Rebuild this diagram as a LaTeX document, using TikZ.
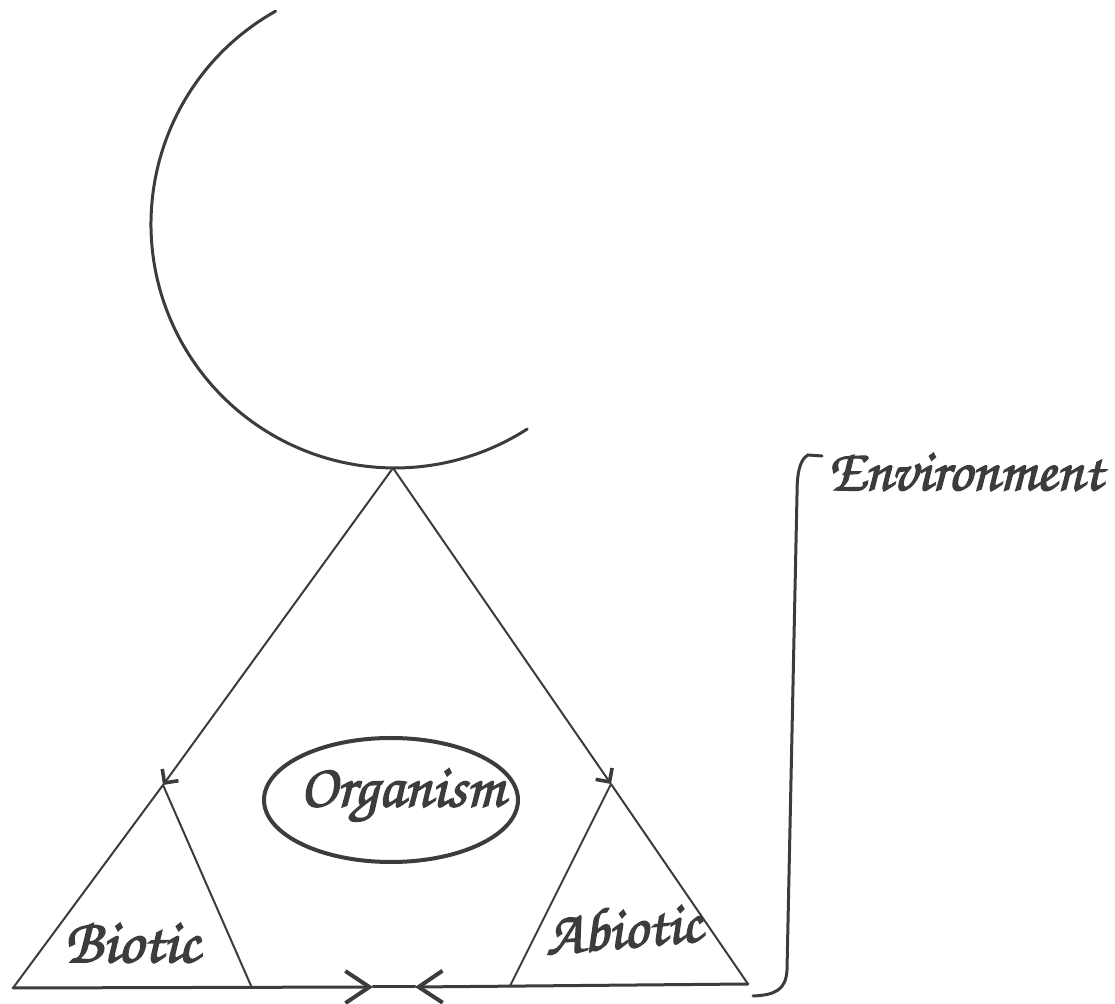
\documentclass[tikz,border=0pt]{standalone}
\usepackage{fontspec}
\newfontfamily\chorus[AutoFakeBold=2.2]{texgyrechorus-mediumitalic.otf}
\usetikzlibrary{arrows.meta,shapes.geometric}
\definecolor{ink}{HTML}{3C3C3C}
\tikzset{
  pen/.style={draw=ink,line width=1pt,line cap=round,line join=round},
  thickpen/.style={draw=ink,line width=1.5pt,line cap=round},
  smallarrow/.style={pen,-{Straight Barb[length=5pt,width=10pt,line width=1.8pt]}},
  bigarrow/.style={thickpen,-{Straight Barb[length=12pt,width=16pt,line width=2pt]}},
  label/.style={text=ink,inner sep=0pt,font=\chorus\bfseries}
}
\begin{document}
\begin{tikzpicture}[x=0.5pt,y=0.5pt]
\useasboundingbox (0,0) rectangle (1115,-1004);
% arc
\draw[thickpen] (275.6,-11.2) arc[start angle=119.3,end angle=302.8,radius=122pt];
% coordinates
\coordinate (apex) at (393,-468);
\coordinate (bapex) at (163,-785);
\coordinate (aapex) at (611,-784);
\coordinate (bl) at (13,-988);
\coordinate (br) at (252,-988);
\coordinate (al) at (510,-986);
\coordinate (ar) at (748,-984);
\coordinate (m1) at (373,-987);
\coordinate (m2) at (415,-987);
% connectors from apex
\draw[smallarrow] (apex) -- (bapex);
\draw[smallarrow] (apex) -- (aapex);
% biotic triangle
\draw[pen] (bl) -- (bapex) -- (br);
% abiotic triangle
\draw[pen] (al) -- (aapex) -- (ar);
% bottom line
\draw[bigarrow] (bl) -- (m1);
\draw[bigarrow] (ar) -- (m2);
\draw[thickpen] (m1) -- (m2);
% labels
\node[label] (biotic) at (132,-943) {\resizebox{67.5pt}{!}{Biotic}};
\node[label,rotate=5] (abiotic) at (623,-928) {\resizebox{78.5pt}{!}{Abiotic}};
\node[ellipse,draw=ink,line width=2pt,minimum width=127pt,minimum height=62pt,inner sep=0pt] (orgell) at (391,-800) {};
\node[label] (org) at (402,-795) {\resizebox{102pt}{!}{Organism}};
\node[label,anchor=west] (env) at (827,-472) {\resizebox{137.5pt}{!}{Environment}};
% bracket
\coordinate (t0) at (822,-456);
\coordinate (t1) at (808,-455);
\coordinate (t2) at (797,-495);
\coordinate (t3) at (787,-970);
\coordinate (t4) at (753,-996);
\draw[thickpen] (t0) -- (t1) .. controls (799,-460) and (797,-475) .. (t2) -- (t3) .. controls (786,-990) and (775,-995) .. (t4);
\end{tikzpicture}
\end{document}
